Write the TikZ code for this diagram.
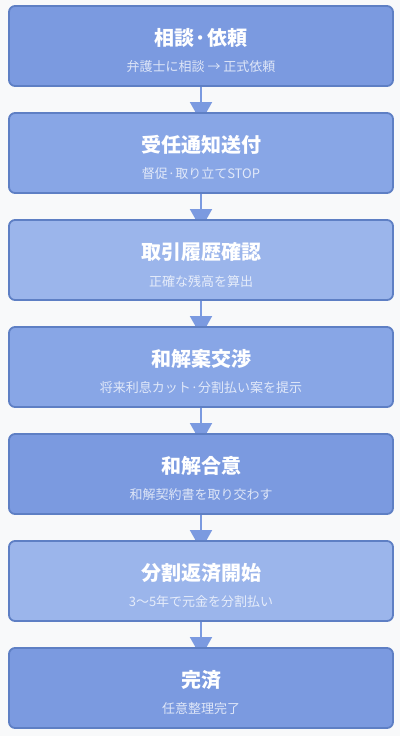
\documentclass[tikz,border=0pt]{standalone}
\usepackage{fontspec}
\setmainfont{Noto Sans CJK JP}
\usetikzlibrary{positioning,backgrounds,arrows.meta}
\definecolor{pagebg}{HTML}{F8F9FA}
\definecolor{stepdark}{HTML}{7B9AE0}
\definecolor{stepmid}{HTML}{88A6E6}
\definecolor{steplight}{HTML}{9BB5EB}
\definecolor{stepline}{HTML}{5E7FC4}
\definecolor{flowline}{HTML}{7B9AE0}
\begin{document}
\begin{tikzpicture}[
        box/.style={draw=stepline, line width=1.8pt, rounded corners=6pt,
            minimum width=384pt, minimum height=80pt, inner sep=0pt, outer sep=0pt},
        title/.style={text=white, font=\bfseries\fontsize{20}{24}\selectfont},
        sub/.style={text=white, text opacity=0.75, font=\fontsize{13}{15}\selectfont},
        flow/.style={draw=flowline, line width=2pt, -{Triangle[length=20pt, width=22pt]}}
    ]
        % Schritte
        \node[box, fill=stepdark] (consult) at (201pt,-46pt) {};
        \node[box, fill=stepmid, below=27pt of consult] (notice) {};
        \node[box, fill=steplight, below=27pt of notice] (history) {};
        \node[box, fill=stepmid, below=27pt of history] (negotiate) {};
        \node[box, fill=stepdark, below=27pt of negotiate] (agree) {};
        \node[box, fill=steplight, below=27pt of agree] (repay) {};
        \node[box, fill=stepdark, below=27pt of repay] (done) {};

        % Texte
        \node[title] (consult-t) at ([yshift=-32pt]consult.north) {相談·依頼};
        \node[sub] (consult-s) at ([yshift=-61pt]consult.north) {弁護士に相談 → 正式依頼};
        \node[title] (notice-t) at ([yshift=-32pt]notice.north) {受任通知送付};
        \node[sub] (notice-s) at ([yshift=-61pt]notice.north) {督促·取り立てSTOP};
        \node[title] (history-t) at ([yshift=-32pt]history.north) {取引履歴確認};
        \node[sub] (history-s) at ([yshift=-61pt]history.north) {正確な残高を算出};
        \node[title] (negotiate-t) at ([yshift=-32pt]negotiate.north) {和解案交渉};
        \node[sub] (negotiate-s) at ([yshift=-61pt]negotiate.north) {将来利息カット·分割払い案を提示};
        \node[title] (agree-t) at ([yshift=-32pt]agree.north) {和解合意};
        \node[sub] (agree-s) at ([yshift=-61pt]agree.north) {和解契約書を取り交わす};
        \node[title] (repay-t) at ([yshift=-32pt]repay.north) {分割返済開始};
        \node[sub] (repay-s) at ([yshift=-61pt]repay.north) {3〜5年で元金を分割払い};
        \node[title] (done-t) at ([yshift=-32pt]done.north) {完済};
        \node[sub] (done-s) at ([yshift=-61pt]done.north) {任意整理完了};

        % Hintergrund und Pfeile
        \begin{scope}[on background layer]
            \fill[pagebg] (0,0) rectangle (400pt,-736pt);
            \draw[flow] (consult) -- ([yshift=-9pt]notice.north);
            \draw[flow] (notice) -- ([yshift=-9pt]history.north);
            \draw[flow] (history) -- ([yshift=-9pt]negotiate.north);
            \draw[flow] (negotiate) -- ([yshift=-9pt]agree.north);
            \draw[flow] (agree) -- ([yshift=-9pt]repay.north);
            \draw[flow] (repay) -- ([yshift=-9pt]done.north);
        \end{scope}
        \useasboundingbox (0,0) rectangle (400pt,-736pt);
    \end{tikzpicture}
\end{document}
